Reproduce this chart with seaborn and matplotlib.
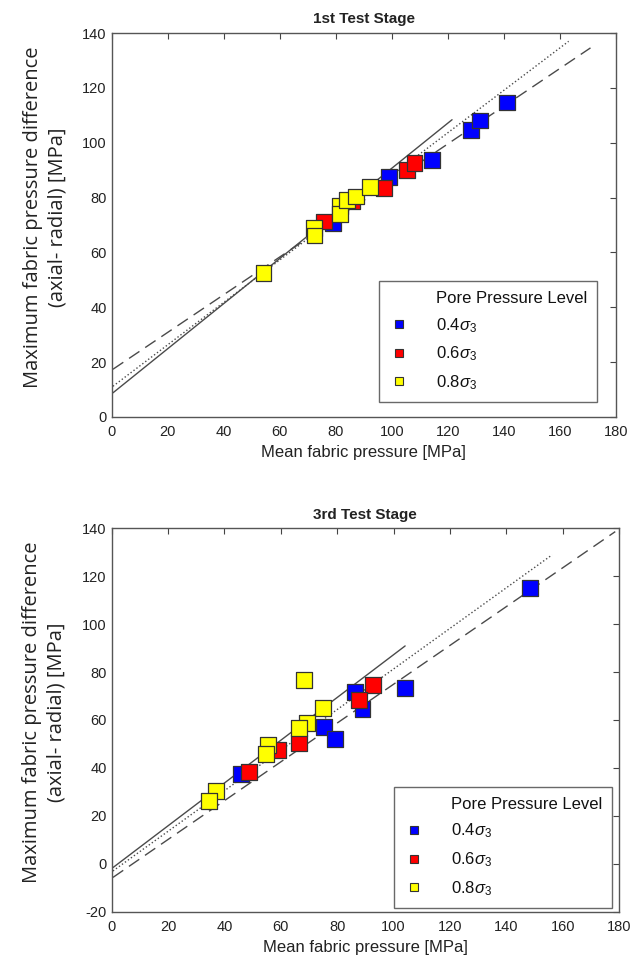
import matplotlib
matplotlib.use('Agg')
import matplotlib.pyplot as plt
from matplotlib.lines import Line2D
import seaborn as sns
import pandas as pd

# ---- data ----
levels = ["0.4", "0.6", "0.8"]
level_colors = {"0.4": "#0000FF", "0.6": "#FF0000", "0.8": "#FFFF00"}

# 1st test stage
s1_x_04 = [79.0, 98.9, 114.4, 128.4, 131.6, 141.1]
s1_y_04 = [70.7, 87.5, 93.8, 104.7, 108.1, 114.7]
s1_x_06 = [75.9, 85.8, 97.1, 105.4, 108.1]
s1_y_06 = [71.3, 78.6, 83.5, 90.1, 92.6]
s1_x_08 = [54.2, 72.1, 72.4, 81.6, 81.4, 84.0, 87.3, 92.1]
s1_y_08 = [52.4, 68.9, 66.2, 76.8, 74.1, 79.2, 80.4, 83.8]

# fitted lines (end points)
s1_solid_x, s1_solid_y = [0.5, 121.5], [8.8, 108.4]
s1_dot_x, s1_dot_y = [0.5, 163.1], [11.2, 137.0]
s1_dash_x, s1_dash_y = [0.5, 170.9], [17.4, 134.6]

# 3rd test stage
s3_x_04 = [148.5, 104.1, 86.4, 89.0, 75.4, 79.1, 46.0]
s3_y_04 = [115.2, 73.5, 71.8, 64.5, 57.2, 51.9, 37.5]
s3_x_06 = [92.6, 87.6, 66.6, 59.2, 48.6]
s3_y_06 = [74.6, 68.3, 50.5, 47.5, 38.4]
s3_x_08 = [68.1, 75.0, 69.3, 66.6, 55.5, 54.7, 37.0, 34.6]
s3_y_08 = [76.7, 64.9, 58.9, 56.5, 49.6, 45.8, 30.5, 26.3]

s3_solid_x, s3_solid_y = [0.5, 104.1], [-1.6, 90.9]
s3_dot_x, s3_dot_y = [0.5, 156.2], [-3.0, 128.9]
s3_dash_x, s3_dash_y = [0.5, 178.6], [-5.7, 138.6]

titles = ["1st Test Stage", "3rd Test Stage"]
xlabel = "Mean fabric pressure [MPa]"
ylabel = "Maximum fabric pressure difference\n(axial- radial) [MPa]"
legend_title = "Pore Pressure Level"


def make_frame(xs, ys):
    rows = []
    for lev, x, y in zip(levels, xs, ys):
        for a, b in zip(x, y):
            rows.append({"x": a, "y": b, "level": lev})
    return pd.DataFrame(rows)


sns.set_theme(style="white")
plt.rcParams['font.family'] = ['Liberation Sans', 'DejaVu Sans']
plt.rcParams['mathtext.fontset'] = 'custom'
plt.rcParams['mathtext.rm'] = 'Liberation Sans'
plt.rcParams['mathtext.it'] = 'Liberation Sans:italic'
plt.rcParams['axes.unicode_minus'] = False

fig = plt.figure(figsize=(6.41, 9.67), dpi=100)
ax1 = fig.add_axes([0.174, 0.5688, 0.787, 0.397])
ax2 = fig.add_axes([0.174, 0.0572, 0.792, 0.3965])

dash = (0, (9, 5))
panels = [
    (ax1, make_frame([s1_x_04, s1_x_06, s1_x_08], [s1_y_04, s1_y_06, s1_y_08]),
     [(s1_solid_x, s1_solid_y, '-'), (s1_dot_x, s1_dot_y, ':'), (s1_dash_x, s1_dash_y, dash)],
     (0, 140), (0.962, 0.039)),
    (ax2, make_frame([s3_x_04, s3_x_06, s3_x_08], [s3_y_04, s3_y_06, s3_y_08]),
     [(s3_solid_x, s3_solid_y, '-'), (s3_dot_x, s3_dot_y, ':'), (s3_dash_x, s3_dash_y, dash)],
     (-20, 140), (0.986, 0.01)),
]

for i, (ax, df, lines, ylim, leg_anchor) in enumerate(panels):
    for lx, ly, ls in lines:
        ax.plot(lx, ly, color="#4a4a4a", linestyle=ls, linewidth=1.0, zorder=1)
    sns.scatterplot(data=df, x="x", y="y", hue="level", palette=level_colors,
                    marker="s", s=130, edgecolor="#333333", linewidth=0.9,
                    legend=False, ax=ax, zorder=3)
    ax.set_xlim(0, 180)
    ax.set_ylim(*ylim)
    ax.set_xticks(range(0, 181, 20))
    ax.set_yticks(range(ylim[0], 141, 20))
    ax.tick_params(direction="in", top=True, right=True, length=4, width=0.8,
                   colors="#444444", labelcolor="#222222", labelsize=10.5)
    ax.tick_params(axis="x", pad=6)
    for sp in ax.spines.values():
        sp.set_color("#555555")
        sp.set_linewidth(1.0)
    ax.set_title(titles[i], fontsize=11, fontweight="bold", color="#222222", pad=7)
    ax.set_xlabel(xlabel, fontsize=12, color="#222222", labelpad=4)
    ax.set_ylabel(ylabel, fontsize=14.5, color="#222222",
                  family=['Open Sans', 'DejaVu Sans'], linespacing=1.3)
    ax.yaxis.set_label_coords(-0.088, 0.52)

    handles = [Line2D([], [], linestyle="none", marker=None, label=legend_title)]
    for lev in levels:
        handles.append(Line2D([], [], linestyle="none", marker="s", markersize=6,
                              markerfacecolor=level_colors[lev], markeredgecolor="#333333",
                              markeredgewidth=0.8, label=lev + r"$\sigma_3$"))
    leg = ax.legend(handles=handles, loc="lower right", bbox_to_anchor=leg_anchor,
                    borderaxespad=0, fontsize=12, frameon=True, fancybox=False,
                    handlelength=1.2, handletextpad=1.6, labelspacing=0.6,
                    borderpad=0.6)
    leg.get_frame().set_edgecolor("#444444")
    leg.get_frame().set_linewidth(1.0)
    for t in leg.get_texts():
        t.set_color("#111111")

fig.savefig("out.png", dpi=100)
plt.close(fig)
